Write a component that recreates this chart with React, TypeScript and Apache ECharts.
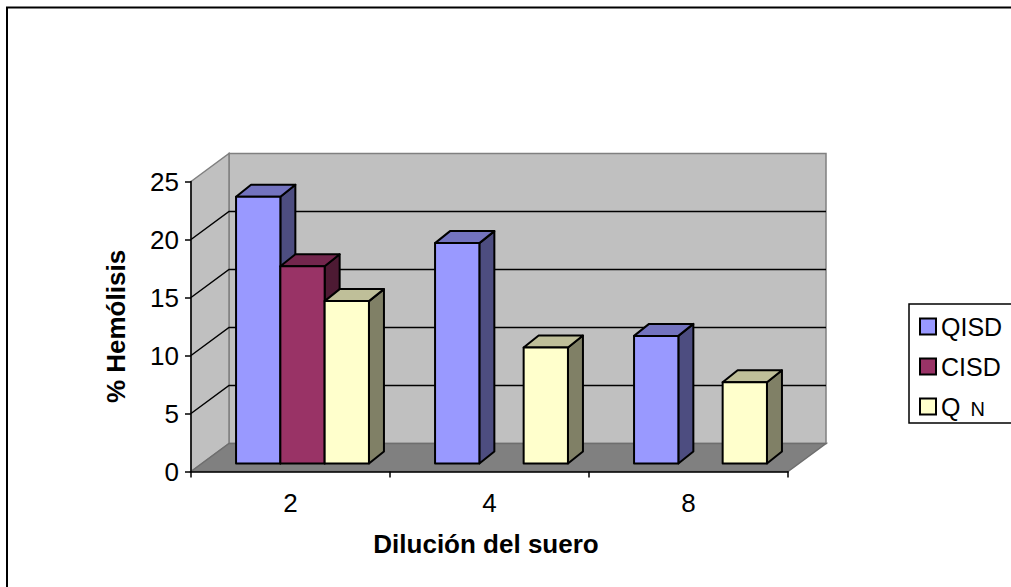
import React, { useEffect, useRef } from "react";
import * as echarts from "echarts";

const categories = ["2", "4", "8"];
const qisd = [23, 19, 11];
const cisd = [17, null, null];
const qn = [14, 10, 7];
const valueTicks = [5, 10, 15, 20];

const FONT = "'Liberation Sans', Arial, sans-serif";
const WALL_DX = 38;
const WALL_DY = -28;
const BAR_DX = 12;
const BAR_DY = -8;
const BAR_DEPTH_X = 15;
const BAR_DEPTH_Y = -12;
const BAR_W = 44.3;

const seriesLook = [
  { name: "QISD", values: qisd, front: "#9999FF", top: "#7373BF", side: "#4D4D80" },
  { name: "CISD", values: cisd, front: "#993366", top: "#73264D", side: "#4D1A33" },
  { name: "Q N", values: qn, front: "#FFFFCC", top: "#BFBF99", side: "#808066" },
];

// Back wall, side wall, floor and the gridlines that run across both walls.
function renderRoom(_: any, api: any) {
  const left = api.coord([0, 0])[0] - api.size([1, 0])[0] / 2;
  const right = left + api.size([1, 0])[0] * categories.length;
  const y0 = api.coord([0, 0])[1];
  const yMax = api.coord([0, 25])[1];
  const edge = { stroke: "#808080", lineWidth: 1.5 };
  const children: any[] = [
    {
      type: "polygon",
      shape: { points: [[left + WALL_DX, yMax + WALL_DY], [right + WALL_DX, yMax + WALL_DY], [right + WALL_DX, y0 + WALL_DY], [left + WALL_DX, y0 + WALL_DY]] },
      style: { fill: "#C0C0C0", ...edge },
    },
    {
      type: "polygon",
      shape: { points: [[left, yMax], [left + WALL_DX, yMax + WALL_DY], [left + WALL_DX, y0 + WALL_DY], [left, y0]] },
      style: { fill: "#C0C0C0", ...edge },
    },
    {
      type: "polygon",
      shape: { points: [[left, y0], [left + WALL_DX, y0 + WALL_DY], [right + WALL_DX, y0 + WALL_DY], [right, y0]] },
      style: { fill: "#808080", stroke: "#6E6E6E", lineWidth: 1.5 },
    },
  ];
  valueTicks.forEach((v) => {
    const y = api.coord([0, v])[1];
    children.push({
      type: "polyline",
      shape: { points: [[left, y], [left + WALL_DX, y + WALL_DY], [right + WALL_DX, y + WALL_DY]] },
      style: { fill: "none", stroke: "#000", lineWidth: 1.5 },
    });
  });
  return { type: "group", children };
}

// One extruded bar: front face, top face and right-hand side face.
function barRenderer(seriesIndex: number) {
  const look = seriesLook[seriesIndex];
  return (_: any, api: any) => {
    const center = api.coord([api.value(0), 0]);
    const topPt = api.coord([api.value(0), api.value(1)]);
    const x0 = center[0] + BAR_DX + (seriesIndex - 1.5) * BAR_W;
    const x1 = x0 + BAR_W;
    const yb = center[1] + BAR_DY;
    const yt = topPt[1] + BAR_DY;
    const line = { stroke: "#000", lineWidth: 2, lineJoin: "round" };
    return {
      type: "group",
      children: [
        {
          type: "polygon",
          shape: { points: [[x1, yt], [x1 + BAR_DEPTH_X, yt + BAR_DEPTH_Y], [x1 + BAR_DEPTH_X, yb + BAR_DEPTH_Y], [x1, yb]] },
          style: { fill: look.side, ...line },
        },
        {
          type: "polygon",
          shape: { points: [[x0, yt], [x0 + BAR_DEPTH_X, yt + BAR_DEPTH_Y], [x1 + BAR_DEPTH_X, yt + BAR_DEPTH_Y], [x1, yt]] },
          style: { fill: look.top, ...line },
        },
        {
          type: "polygon",
          shape: { points: [[x0, yt], [x1, yt], [x1, yb], [x0, yb]] },
          style: { fill: look.front, ...line },
        },
      ],
    };
  };
}

export default function App() {
  const ref = useRef<HTMLDivElement>(null);

  useEffect(() => {
    document.body.style.margin = "0";
    document.body.style.overflow = "hidden";
    const chart = echarts.init(ref.current!, undefined, { renderer: "svg" });
    chart.setOption({
      animation: false,
      backgroundColor: "#FFFFFF",
      textStyle: { fontFamily: FONT },
      graphic: [
        {
          type: "rect",
          silent: true,
          z: 0,
          shape: { x: 7, y: 7.5, width: 1100, height: 700 },
          style: { fill: "none", stroke: "#000", lineWidth: 2 },
        },
      ],
      grid: { left: 191, top: 181.5, width: 597, height: 290 },
      xAxis: {
        type: "category",
        data: categories,
        z: 5,
        axisLine: { lineStyle: { color: "#000", width: 1.5 } },
        axisTick: { show: true, alignWithLabel: false, length: 6, lineStyle: { color: "#000", width: 1.5 } },
        axisLabel: { color: "#000", fontSize: 26, fontFamily: FONT, margin: 18 },
        name: "Dilución del suero",
        nameLocation: "middle",
        nameGap: 59,
        nameTextStyle: { color: "#000", fontSize: 26, fontWeight: "bold", fontFamily: FONT, padding: [0, 7, 0, 0] },
      },
      yAxis: {
        type: "value",
        min: 0,
        max: 25,
        interval: 5,
        z: 5,
        splitLine: { show: false },
        axisLine: { show: true, lineStyle: { color: "#000", width: 1.5 } },
        axisTick: { show: true, length: 6, lineStyle: { color: "#000", width: 1.5 } },
        axisLabel: { color: "#000", fontSize: 26, fontFamily: FONT, margin: 12 },
        name: "% Hemólisis",
        nameLocation: "middle",
        nameGap: 62,
        nameRotate: 90,
        nameTextStyle: { color: "#000", fontSize: 26, fontWeight: "bold", fontFamily: FONT },
      },
      legend: {
        orient: "vertical",
        left: 909,
        top: 304,
        padding: [10, 20, 4, 10],
        itemWidth: 16,
        itemHeight: 16,
        itemGap: 15,
        borderColor: "#000",
        borderWidth: 1.5,
        backgroundColor: "#FFF",
        icon: "rect",
        data: seriesLook.map((s) => s.name),
        formatter: (name: string) => (name === "Q N" ? "{q|Q} {n|N}" : name),
        textStyle: {
          color: "#000",
          fontSize: 25,
          fontFamily: FONT,
          rich: {
            q: { fontSize: 25, fontFamily: FONT, color: "#000" },
            n: { fontSize: 20, fontFamily: FONT, color: "#000", verticalAlign: "bottom", padding: [0, 0, 0, 3] },
          },
        },
      },
      series: [
        {
          type: "custom",
          name: "room",
          silent: true,
          z: 1,
          renderItem: renderRoom,
          data: [[0, 0]],
          encode: { x: 0, y: 1 },
        },
        ...seriesLook.map((s, i) => ({
          type: "custom",
          name: s.name,
          z: 2 + i,
          renderItem: barRenderer(i),
          itemStyle: { color: s.front, borderColor: "#000", borderWidth: 1.5 },
          encode: { x: 0, y: 1 },
          data: s.values
            .map((v, c) => (v == null ? null : [c, v]))
            .filter((d) => d !== null),
        })),
      ],
    });
    return () => chart.dispose();
  }, []);

  return (
    <div
      ref={ref}
      style={{ position: "absolute", left: 0, top: 0, width: 1011, height: 587, overflow: "hidden" }}
    />
  );
}
